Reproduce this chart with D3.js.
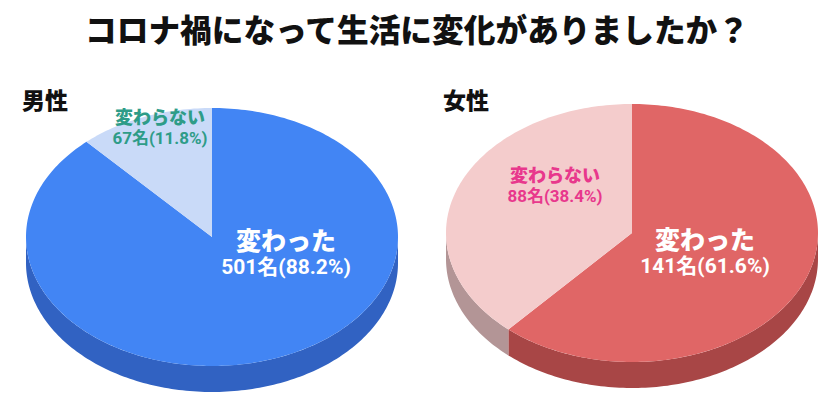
<!DOCTYPE html>
<html lang="ja">
<head>
<meta charset="UTF-8">
<script src="https://cdn.jsdelivr.net/npm/d3@7"></script>
<style>
    body { margin: 0; background: #ffffff; }
    svg { display: block; }
    text { font-family: "Noto Sans CJK JP", "Noto Sans", sans-serif; }
    text.num { font-family: Roboto, "Noto Sans CJK JP", sans-serif; }
</style>
</head>
<body>
<svg width="840" height="420"></svg>
<script>
    const TITLE = "コロナ禍になって生活に変化がありましたか？";
    const GROUPS = ["男性", "女性"];
    const CATEGORIES = ["変わった", "変わらない"];
    const MALE_COUNTS = [501, 67];
    const FEMALE_COUNTS = [141, 88];
    const MALE_PCT = ["88.2%", "11.8%"];
    const FEMALE_PCT = ["61.6%", "38.4%"];

    const WIDTH = 840;
    const RX = 186;
    const RY = 129;
    const DEPTH = 26;

    const svg = d3.select("svg");

    const charts = [
        {
            name: GROUPS[0], counts: MALE_COUNTS, pct: MALE_PCT,
            cx: 212, cy: 237, labelX: 22,
            top: ["#4285f4", "#c9daf8"], side: ["#3162c2", "#9aa9c6"],
            text: ["#ffffff", "#2e9c88"],
            textPos: [[286, 241], [160, 118]]
        },
        {
            name: GROUPS[1], counts: FEMALE_COUNTS, pct: FEMALE_PCT,
            cx: 632, cy: 233, labelX: 443,
            top: ["#e06666", "#f4cccc"], side: ["#a84646", "#b39596"],
            text: ["#ffffff", "#e8388c"],
            textPos: [[705, 240], [555, 176]]
        }
    ];

    svg.append("text")
        .attr("x", WIDTH / 2 - 3)
        .attr("y", 42)
        .attr("text-anchor", "middle")
        .attr("font-size", 32)
        .attr("font-weight", 900)
        .attr("textLength", 664)
        .attr("lengthAdjust", "spacingAndGlyphs")
        .attr("fill", "#111111")
        .text(TITLE);

    const pie = d3.pie().sort(null).value(d => d);

    function project(c, a, dy) {
        return [c.cx + RX * Math.sin(a), c.cy - RY * Math.cos(a) + (dy || 0)];
    }

    function arcPoints(c, a0, a1, dy) {
        const n = Math.max(2, Math.ceil((a1 - a0) / 0.02));
        const sc = d3.scaleLinear().domain([0, n]).range([a0, a1]);
        return d3.range(n + 1).map(i => project(c, sc(i), dy));
    }

    function topPath(c, s) {
        const p = d3.path();
        p.moveTo(c.cx, c.cy);
        arcPoints(c, s.startAngle, s.endAngle, 0).forEach(pt => p.lineTo(pt[0], pt[1]));
        p.closePath();
        return p.toString();
    }

    // only the front half of the rim (90deg..270deg) is visible
    function sidePath(c, s) {
        const a0 = Math.max(s.startAngle, Math.PI / 2);
        const a1 = Math.min(s.endAngle, Math.PI * 3 / 2);
        if (a1 <= a0) return null;
        const p = d3.path();
        const upper = arcPoints(c, a0, a1, 0);
        const lower = arcPoints(c, a0, a1, DEPTH).reverse();
        upper.forEach((pt, i) => i ? p.lineTo(pt[0], pt[1]) : p.moveTo(pt[0], pt[1]));
        lower.forEach(pt => p.lineTo(pt[0], pt[1]));
        p.closePath();
        return p.toString();
    }

    charts.forEach(c => {
        const slices = pie(c.counts);
        const g = svg.append("g");

        g.selectAll("path.side")
            .data(slices.filter(s => sidePath(c, s)))
            .enter()
            .append("path")
            .attr("class", "side")
            .attr("d", s => sidePath(c, s))
            .attr("fill", s => c.side[s.index]);

        g.selectAll("path.top")
            .data(slices)
            .enter()
            .append("path")
            .attr("class", "top")
            .attr("d", s => topPath(c, s))
            .attr("fill", s => c.top[s.index]);

        svg.append("text")
            .attr("x", c.labelX)
            .attr("y", 109)
            .attr("font-size", 23)
            .attr("font-weight", 900)
            .attr("fill", "#111111")
            .text(c.name);

        slices.forEach(s => {
            const i = s.index;
            const [tx, ty] = c.textPos[i];
            const big = i === 0;

            svg.append("text")
                .attr("x", tx)
                .attr("y", ty)
                .attr("dy", "0.36em")
                .attr("text-anchor", "middle")
                .attr("font-weight", 900)
                .attr("font-size", big ? 25 : 18)
                .attr("fill", c.text[i])
                .text(CATEGORIES[i]);

            svg.append("text")
                .attr("class", "num")
                .attr("x", tx)
                .attr("y", ty + (big ? 25 : 20))
                .attr("dy", "0.36em")
                .attr("text-anchor", "middle")
                .attr("font-weight", 700)
                .attr("font-size", big ? 21 : 17)
                .attr("fill", c.text[i])
                .text(`${c.counts[i]}名(${c.pct[i]})`);
        });
    });
</script>
</body>
</html>
